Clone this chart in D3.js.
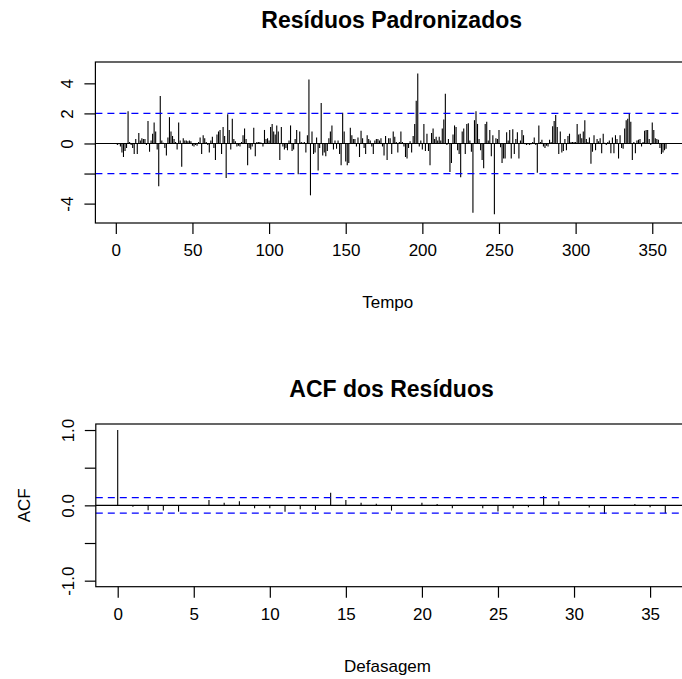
<!DOCTYPE html>
<html>
<head>
<meta charset="utf-8">
<script src="https://cdn.jsdelivr.net/npm/d3@7"></script>
<style>
  html, body { margin: 0; padding: 0; background: #fff; }
  svg { display: block; }
  text { font-family: "Liberation Sans", Arial, Helvetica, sans-serif; fill: #000; }
</style>
</head>
<body>
<svg id="chart" width="682" height="679"></svg>
<script>
// ---------- data ----------
const residuals = [
  -0.1, -0.05, -0.2, -0.6, -0.9, -0.5, -0.3, 2.15, 0.1, -0.1,
  -0.3, -0.7, 0.3, -0.7, 0.7, 0.2, 0.35, 0.3, 0.3, -0.1,
  1.5, -0.55, 0.2, 0.65, 1.4, 0.8, -0.4, -2.85, 3.15, 0.2,
  0.05, -0.3, -0.8, 0.4, 1.75, 0.8, 0.5, 0.3, 0.1, -0.4,
  1.4, 0.2, -1.55, 0.35, 0.2, 0.2, 0.15, 0.2, 0.15, -0.15,
  -0.2, -0.1, -0.15, 0.1, 0.4, -0.7, 0.55, 0.35, 0.1, -0.1,
  -0.6, 0.2, 0.45, -0.3, -1.1, 0.6, 0.8, 0.9, -0.7, 1.1,
  0.5, -2.3, 1.95, 0.9, -0.4, 1.65, 0.3, 0.15, -0.2, -0.15,
  -0.2, 0.1, 0.55, 1.0, 0.3, -1.45, -0.3, -0.4, -0.2, 1.05,
  -0.85, 0.1, 0.1, 0.1, 0.05, -0.2, 0.9, 0.3, 0.35, 0.2,
  1.1, 1.3, 0.8, 0.6, 1.2, 0.8, -1.1, 1.1, -0.2, -0.4,
  -0.3, -0.45, 0.2, 1.2, -0.5, -0.4, 0.3, 0.9, -2.05, 0.8,
  0.1, 0.05, 0.1, -0.6, 0.55, 4.25, -3.45, 0.8, -0.7, -0.6,
  0.4, -1.8, -0.3, 2.7, -0.8, -0.6, -0.85, -0.5, 0.35, 0.8,
  1.2, -0.4, 0.2, -0.35, 0.2, -0.7, -1.45, 2.05, 0.8, -1.2,
  -1.45, -1.3, 1.05, 0.55, 0.3, 0.3, -0.2, 0.4, -0.9, 0.85,
  0.35, -0.3, -0.7, 0.55, 0.3, 0.2, -0.2, -0.7, 0.2, 0.3,
  0.3, 0.2, 0.35, -0.2, -0.8, 0.5, -1.1, 0.35, 0.35, -0.7,
  0.8, 0.45, 0.1, -0.6, 0.1, 0.8, 0.1, -0.2, -0.9, -1.0,
  -0.3, 0.15, -0.6, 0.5, 1.3, 2.85, 4.65, -0.2, 0.2, -0.4,
  1.3, -0.5, 0.65, -0.5, -1.45, 0.7, 1.0, 0.3, 0.45, 0.2,
  0.45, 0.2, 1.0, 1.6, 3.3, -0.1, 0.3, -1.9, -1.3, 0.6,
  1.2, 1.1, -0.45, -0.7, -2.25, 0.8, 1.0, -0.7, 1.3, 1.35,
  0.2, -0.55, -4.6, 1.55, 2.15, 1.3, 0.3, -0.45, -1.1, -1.65,
  1.3, 1.45, 0.2, 0.9, -0.85, 0.55, -4.7, 0.35, 0.3, 0.9,
  -0.25, -1.3, -1.0, -1.0, 0.75, 0.2, 0.9, -1.0, 0.95, -0.7,
  0.3, 0.75, -1.0, 0.2, 0.9, 0.55, -0.05, -0.1, -0.05, -0.1,
  -0.05, 0.1, 0.4, -0.1, -1.95, 1.2, 0.1, 0.25, -0.2, -0.3,
  -0.15, -0.2, 0.25, 0.1, 1.15, 1.5, 1.9, 1.1, -0.7, 0.8,
  -0.6, -0.5, 0.3, -0.45, 0.5, 0.65, 0.1, 0.1, 0.1, 0.1,
  1.3, 0.6, 0.65, 0.35, 0.8, 1.55, 0.3, 0.1, 0.4, -1.35,
  -0.55, 0.55, -0.45, 0.3, 0.15, 0.35, -0.65, 0.65, 0.05, -0.1,
  0.1, 0.2, -0.65, 0.4, -0.65, 0.55, 0.3, -1.0, 0.55, -0.3,
  -0.35, 1.0, 1.55, 1.65, 2.0, 1.45, -1.1, 0.1, -0.65, 0.2,
  0.25, 0.3, -0.2, 0.1, 0.85, 0.9, 0.9, 0.3, -0.1, 1.4,
  0.9, 0.35, 0.3, 0.25, -0.3, -0.7, -0.6, -0.45, -0.35
];
const timeIndex = residuals.map((_, i) => i + 1);

const acfLags = d3.range(0, 37);
const acfValues = [
  1.0, -0.02, -0.066, -0.07, -0.084, 0.005, 0.07, 0.035, 0.053, -0.04,
  -0.04, -0.084, -0.053, -0.062, 0.168, 0.07, 0.035, 0.02, -0.07, -0.005,
  0.035, 0.018, -0.04, 0.004, -0.04, -0.08, -0.04, -0.026, 0.124, 0.053,
  0.004, -0.03, -0.115, -0.004, 0.018, -0.026, -0.106
];

const residXTicks = [0, 50, 100, 150, 200, 250, 300, 350];
const residYTicks = [-4, -2, 0, 2, 4];
const residYLabels = {"-4": "-4", "0": "0", "2": "2", "4": "4"};
const acfXTicks = [0, 5, 10, 15, 20, 25, 30, 35];
const acfYTicks = [-1, -0.5, 0, 0.5, 1];
const acfYLabels = {"-1": "-1.0", "0": "0.0", "1": "1.0"};

const titles = ["Resíduos Padronizados", "ACF dos Resíduos"];
const xLabels = ["Tempo", "Defasagem"];
const yLabels = ["", "ACF"];

// ---------- layout ----------
const svg = d3.select("#chart");
const AX = 17, TT = 23;
const nObs = residuals.length;
const confResid = 2;
const confAcf = 1.96 / Math.sqrt(nObs);

function panel(cfg) {
  const g = svg.append("g");
  const x = d3.scaleLinear().domain(cfg.xdom).range([cfg.left, cfg.right]);
  const y = d3.scaleLinear().domain(cfg.ydom).range([cfg.bottom, cfg.top]);

  // title
  g.append("text").attr("x", (cfg.left + cfg.right) / 2).attr("y", cfg.titleY)
    .attr("text-anchor", "middle").attr("font-weight", "bold").attr("font-size", TT)
    .text(cfg.title);

  // spikes
  g.append("g").selectAll("line").data(cfg.xs)
    .join("line")
    .attr("x1", d => x(d)).attr("x2", d => x(d))
    .attr("y1", y(0)).attr("y2", (d, i) => y(cfg.ys[i]))
    .attr("stroke", "#000").attr("stroke-width", 1.1);

  // zero line
  g.append("line").attr("x1", cfg.left).attr("x2", cfg.right)
    .attr("y1", y(0)).attr("y2", y(0)).attr("stroke", "#000").attr("stroke-width", 1.2);

  // conf lines
  [cfg.conf, -cfg.conf].forEach(c => {
    g.append("line").attr("x1", cfg.left).attr("x2", cfg.right)
      .attr("y1", y(c)).attr("y2", y(c))
      .attr("stroke", "#0000ff").attr("stroke-width", 1.2)
      .attr("stroke-dasharray", "7,5");
  });

  // box
  g.append("rect").attr("x", cfg.left).attr("y", cfg.top)
    .attr("width", cfg.right - cfg.left).attr("height", cfg.bottom - cfg.top)
    .attr("fill", "none").attr("stroke", "#000").attr("stroke-width", 1.2);

  // x axis
  const xa = d3.axisBottom(x).tickValues(cfg.xticks).tickSize(11).tickPadding(10).tickFormat(d3.format("d"));
  const gx = g.append("g").attr("transform", `translate(0,${cfg.bottom})`).call(xa);
  gx.select(".domain").remove();
  gx.selectAll("line").attr("stroke", "#000").attr("stroke-width", 1.2);
  gx.selectAll("text").attr("font-size", AX).attr("font-family", "Liberation Sans, Arial, sans-serif");

  // y axis
  const ya = d3.axisLeft(y).tickValues(cfg.yticks).tickSize(11).tickPadding(0).tickFormat(d => cfg.ylabels[String(d)] || "");
  const gy = g.append("g").attr("transform", `translate(${cfg.left},0)`).call(ya);
  gy.select(".domain").remove();
  gy.selectAll("line").attr("stroke", "#000").attr("stroke-width", 1.2);
  gy.selectAll("text")
    .attr("font-size", AX).attr("font-family", "Liberation Sans, Arial, sans-serif")
    .attr("text-anchor", "middle").attr("dy", null).attr("x", null).attr("y", null)
    .attr("transform", "translate(-22,0) rotate(-90)");

  // x label
  g.append("text").attr("x", (cfg.left + cfg.right) / 2 - 4).attr("y", cfg.bottom + 85)
    .attr("text-anchor", "middle").attr("font-size", AX).text(cfg.xlabel);
  if (cfg.ylabel) {
    g.append("text").attr("transform", `translate(30,${(cfg.top + cfg.bottom) / 2}) rotate(-90)`)
      .attr("text-anchor", "middle").attr("font-size", AX).text(cfg.ylabel);
  }
}

panel({
  left: 95.4, right: 688, top: 62, bottom: 223, titleY: 28,
  xdom: [1 - 0.04 * (nObs - 1), nObs + 0.04 * (nObs - 1)],
  ydom: [-5.29, 5.42],
  xs: timeIndex, ys: residuals, conf: confResid,
  xticks: residXTicks, yticks: residYTicks, ylabels: residYLabels,
  title: titles[0], xlabel: xLabels[0], ylabel: yLabels[0]
});

panel({
  left: 95.8, right: 687.2, top: 424, bottom: 586.7, titleY: 397,
  xdom: [-1.44, 37.44],
  ydom: [-1.08, 1.08],
  xs: acfLags, ys: acfValues, conf: confAcf,
  xticks: acfXTicks, yticks: acfYTicks, ylabels: acfYLabels,
  title: titles[1], xlabel: xLabels[1], ylabel: yLabels[1]
});
</script>
</body>
</html>
